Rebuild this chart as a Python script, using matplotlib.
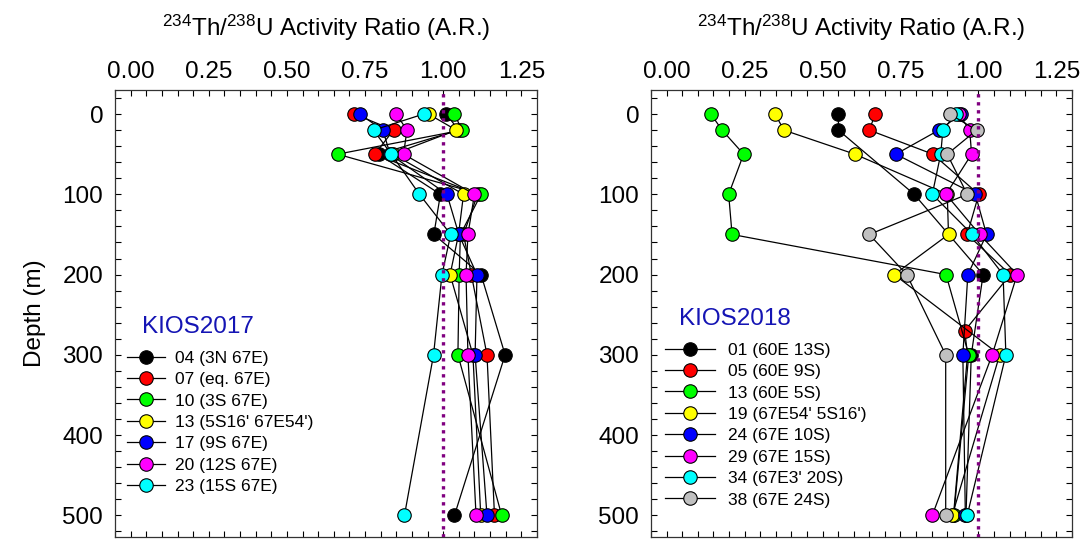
import matplotlib.pyplot as plt
from matplotlib.ticker import MultipleLocator

plt.rcParams['font.family'] = ['Liberation Sans', 'DejaVu Sans']
plt.rcParams['mathtext.fontset'] = 'custom'
plt.rcParams['mathtext.rm'] = 'Liberation Sans'
plt.rcParams['mathtext.default'] = 'regular'

colors = ['black', 'red', '#00ff00', 'yellow', 'blue', 'magenta', 'cyan', '#c0c0c0']

# KIOS2017 stations
labels_2017 = ['04 (3N 67E)', '07 (eq. 67E)', '10 (3S 67E)', "13 (5S16' 67E54')",
               '17 (9S 67E)', '20 (12S 67E)', '23 (15S 67E)']
depth_2017 = [0, 20, 50, 100, 150, 200, 300, 500]
ar_2017 = [
    [1.009, 1.050, 0.793, 0.991, 0.970, 1.121, 1.198, 1.036],
    [0.716, 0.841, 0.781, 1.110, 1.065, 1.090, 1.140, 1.164],
    [1.036, 1.060, 0.662, 1.121, 1.055, 1.051, 1.047, 1.187],
    [0.953, 1.042, 0.840, 1.065, 1.049, 1.022, 1.095, 1.120],
    [0.733, 0.807, 0.830, 1.012, 1.050, 1.108, 1.102, 1.140],
    [0.850, 0.884, 0.873, 1.100, 1.079, 1.073, 1.079, 1.105],
    [0.937, 0.777, 0.834, 0.924, 1.024, 0.996, 0.969, 0.876],
]

# KIOS2018 stations
labels_2018 = ['01 (60E 13S)', '05 (60E 9S)', '13 (60E 5S)', "19 (67E54' 5S16')",
               '24 (67E 10S)', '29 (67E 15S)', "34 (67E3' 20S)", '38 (67E 24S)']
depth_2018 = [
    [0, 20, 100, 200, 300, 500],
    [0, 20, 50, 100, 150, 200, 270, 300, 500],
    [0, 20, 50, 100, 150, 200, 300, 500],
    [0, 20, 50, 100, 150, 200, 300, 500],
    [0, 20, 50, 100, 150, 200, 300, 500],
    [0, 20, 50, 100, 150, 200, 300, 500],
    [0, 20, 50, 100, 150, 200, 300, 500],
    [0, 20, 50, 100, 150, 200, 300, 500],
]
ar_2018 = [
    [0.551, 0.551, 0.794, 1.015, 0.977, 0.960],
    [0.669, 0.650, 0.854, 1.001, 0.964, 1.102, 0.956, 0.965, 0.920],
    [0.142, 0.178, 0.247, 0.199, 0.210, 0.896, 0.969, 0.921],
    [0.348, 0.376, 0.604, 0.900, 0.904, 0.730, 1.068, 0.916],
    [0.945, 0.873, 0.735, 0.990, 1.026, 0.966, 0.950, 0.958],
    [0.937, 0.972, 0.978, 0.896, 1.004, 1.124, 1.044, 0.852],
    [0.927, 0.886, 0.879, 0.852, 0.980, 1.079, 1.088, 0.964],
    [0.908, 0.994, 0.900, 0.964, 0.650, 0.770, 0.895, 0.895],
]

W, H = 1085, 539
fig = plt.figure(figsize=(W / 100, H / 100), dpi=100)
ax1 = fig.add_axes([115 / W, 2 / H, 422 / W, 447 / H])
ax2 = fig.add_axes([651 / W, 2 / H, 421 / W, 447 / H])

panels = [
    (ax1, labels_2017, [depth_2017] * 7, ar_2017, 'KIOS2017', (0.064, 0.470), (0.028, 0.417), 2.2, 0.55),
    (ax2, labels_2018, depth_2018, ar_2018, 'KIOS2018', (0.067, 0.488), (0.033, 0.435), 2.9, 0.72),
]

for ax, labels, depths, vals, name, tpos, lpos, hlen, hpad in panels:
    for i in range(len(labels)):
        ax.plot(vals[i], depths[i], '-o', color='black', lw=0.9, mfc=colors[i],
                mec='black', mew=0.8, ms=9.7, label=labels[i])
    ax.axvline(1.0, color='#800080', ls=(0, (1, 1.4)), lw=2.4, zorder=5)

    ax.set_xlim(-0.05, 1.30)
    ax.set_ylim(527, -30)
    ax.xaxis.set_major_locator(MultipleLocator(0.25))
    ax.xaxis.set_minor_locator(MultipleLocator(0.05))
    ax.yaxis.set_major_locator(MultipleLocator(100))
    ax.yaxis.set_minor_locator(MultipleLocator(20))
    ax.xaxis.set_major_formatter(lambda v, p: f'{v:.2f}')
    ax.tick_params(which='both', direction='in', top=True, bottom=True, left=True, right=True,
                   labeltop=True, labelbottom=False, length=4, width=0.8, labelsize=17.5)
    ax.tick_params(axis='x', pad=5)
    ax.tick_params(axis='y', pad=8.5)
    for s in ax.spines.values():
        s.set_linewidth(0.9)
        s.set_color('#333333')

    ax.xaxis.set_label_position('top')
    ax.set_xlabel(r'$^{234}$Th/$^{238}$U Activity Ratio (A.R.)', fontsize=17.5, labelpad=18)

    ax.text(tpos[0], tpos[1], name, transform=ax.transAxes, color='#1414b4',
            fontsize=17.5, ha='left', va='center')
    ax.legend(loc='upper left', bbox_to_anchor=lpos, frameon=False, fontsize=12.5,
              borderpad=0, borderaxespad=0, handlelength=hlen, handletextpad=hpad,
              labelspacing=0.36)

ax1.set_ylabel('Depth (m)', fontsize=17.5, labelpad=12)

fig.savefig('out.png', dpi=100)
